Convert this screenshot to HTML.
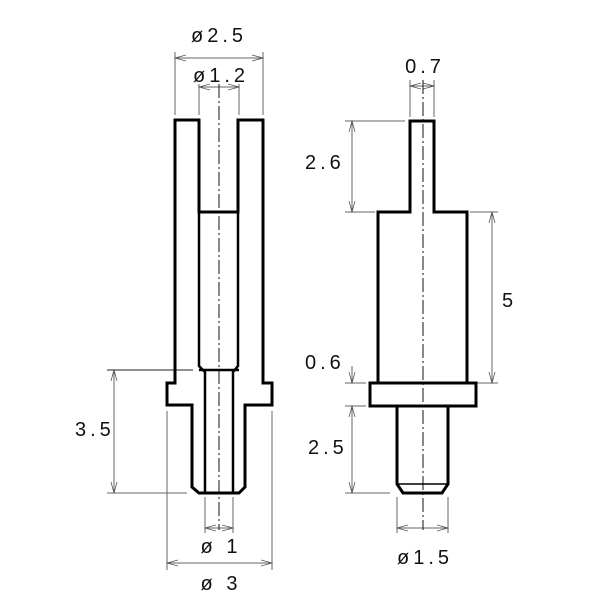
<!DOCTYPE html><html><head><style>body{margin:0;background:#fff}svg{display:block}text{font-family:"Liberation Sans",sans-serif;font-size:20px;fill:#111;letter-spacing:4px}</style></head><body>
<svg width="600" height="600" viewBox="0 0 600 600">
<defs><marker id="a" markerWidth="12" markerHeight="8" refX="11" refY="4" orient="auto-start-reverse" markerUnits="userSpaceOnUse"><path d="M0,1 L11,4 L0,7" fill="none" stroke="#555" stroke-width="0.8"/></marker></defs>
<g stroke="#666" stroke-width="1" fill="none">
<line x1="175" y1="52" x2="175" y2="115"/><line x1="263" y1="52" x2="263" y2="115"/>
<line x1="175" y1="58" x2="263" y2="58" marker-start="url(#a)" marker-end="url(#a)"/>
<line x1="199" y1="84" x2="199" y2="115"/><line x1="239" y1="84" x2="239" y2="115"/>
<line x1="199" y1="87" x2="239" y2="87" marker-start="url(#a)" marker-end="url(#a)"/>
<line x1="107" y1="370" x2="193" y2="370" stroke="#222"/><line x1="107" y1="493" x2="187" y2="493"/>
<line x1="114" y1="370" x2="114" y2="493" marker-start="url(#a)" marker-end="url(#a)"/>
<line x1="205" y1="497" x2="205" y2="533"/><line x1="233" y1="497" x2="233" y2="533"/>
<line x1="205" y1="528" x2="233" y2="528" marker-start="url(#a)" marker-end="url(#a)"/>
<line x1="167" y1="411" x2="167" y2="570"/><line x1="272" y1="411" x2="272" y2="570"/>
<line x1="167" y1="563" x2="272" y2="563" marker-start="url(#a)" marker-end="url(#a)"/>
<line x1="410" y1="80" x2="410" y2="117"/><line x1="434" y1="80" x2="434" y2="117"/>
<line x1="410" y1="86" x2="434" y2="86" marker-start="url(#a)" marker-end="url(#a)"/>
<line x1="345" y1="121" x2="405" y2="121"/><line x1="345" y1="212" x2="375" y2="212"/>
<line x1="352" y1="121" x2="352" y2="212" marker-start="url(#a)" marker-end="url(#a)"/>
<line x1="470" y1="212" x2="498" y2="212"/><line x1="470" y1="383" x2="498" y2="383"/>
<line x1="492" y1="212" x2="492" y2="383" marker-start="url(#a)" marker-end="url(#a)"/>
<line x1="345" y1="383" x2="366" y2="383"/><line x1="345" y1="406" x2="366" y2="406"/>
<line x1="352" y1="366" x2="352" y2="383" marker-end="url(#a)"/>
<line x1="352" y1="406" x2="352" y2="493" marker-start="url(#a)" marker-end="url(#a)"/>
<line x1="345" y1="493" x2="390" y2="493"/>
<line x1="397" y1="497" x2="397" y2="533"/><line x1="448" y1="497" x2="448" y2="533"/>
<line x1="397" y1="528" x2="448" y2="528" marker-start="url(#a)" marker-end="url(#a)"/>
</g>
<g stroke="#111" stroke-width="1" stroke-dasharray="14,3,2,3" fill="none">
<line x1="219" y1="84" x2="219" y2="530"/><line x1="423" y1="80" x2="423" y2="530"/>
</g>
<g stroke="#000" stroke-width="3" fill="none" stroke-linejoin="miter">
<path d="M175,120 H199 V212 H238 V120 H263 V383 H272 V405 H245 V487 L239,493 H199 L192,487 V405 H167 V383 H175 Z"/>
<path d="M199,212 V366 L205,372 V493 M238,212 V366 L233,372 V493 M199,370 H239" stroke-width="2.5"/>
<path d="M410,121 H434 V212 H467 V383 H378 V212 H410 Z"/>
<rect x="370" y="383" width="106" height="23"/>
<path d="M397,406 V484 L403,493 H442 L448,484 V406"/>
<path d="M397,484 H448" stroke-width="1.5"/>
</g>
<text x="219" y="42" text-anchor="middle">ø2.5</text>
<text x="221" y="82" text-anchor="middle">ø1.2</text>
<text x="75" y="436">3.5</text>
<text x="221" y="553" text-anchor="middle">ø 1</text>
<text x="221" y="590" text-anchor="middle">ø 3</text>
<text x="425" y="73" text-anchor="middle">0.7</text>
<text x="305" y="169">2.6</text>
<text x="502" y="307">5</text>
<text x="305" y="369">0.6</text>
<text x="308" y="454">2.5</text>
<text x="425" y="564" text-anchor="middle">ø1.5</text>
</svg></body></html>
